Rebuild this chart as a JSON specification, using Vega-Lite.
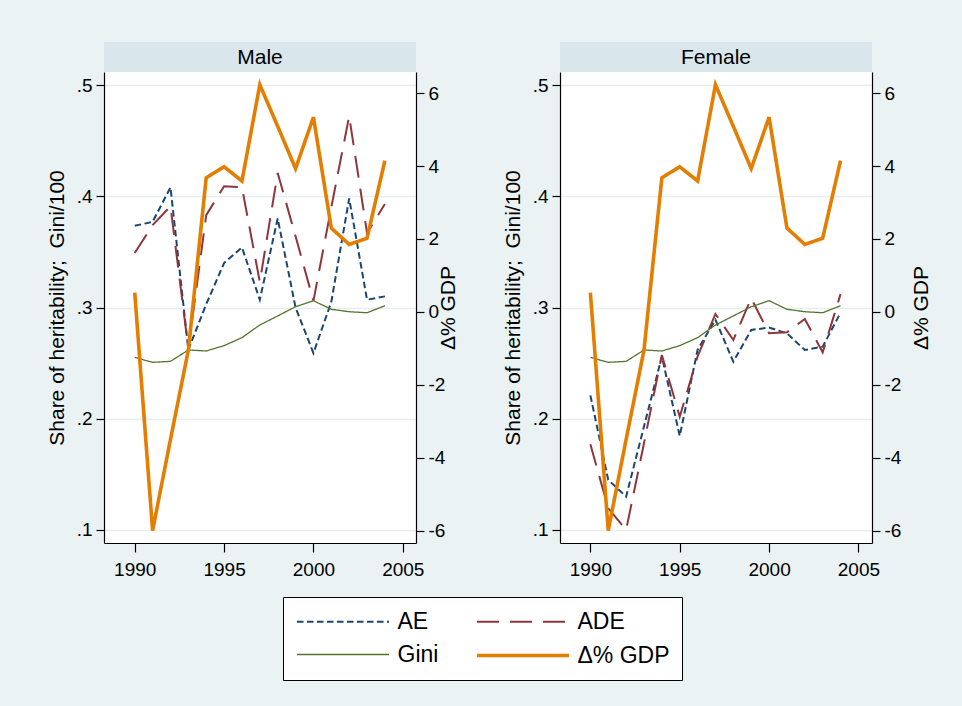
{
  "$schema": "https://vega.github.io/schema/vega-lite/v6.json",
  "background": "#eaf2f3",
  "padding": {"left": 46, "top": 42, "right": 35, "bottom": 29},
  "config": {
    "font": "Liberation Sans",
    "view": {"fill": "white", "stroke": null},
    "axis": {
      "domainColor": "black", "domainWidth": 1.2, "tickColor": "black", "tickSize": 8, "tickWidth": 1.2,
      "labelFont": "Liberation Sans", "labelFontSize": 19, "labelColor": "black",
      "titleFont": "Liberation Sans", "titleFontSize": 21, "titleFontWeight": "normal", "titleColor": "black",
      "gridColor": "#e6eef0", "gridWidth": 1.5
    },
    "legend": {
      "orient": "none", "legendX": 179, "legendY": 555, "columns": 2, "direction": "horizontal",
      "symbolType": "M-4,0H4", "symbolSize": 529, "symbolOffset": 34.5, "labelOffset": 41,
      "labelFontSize": 23, "labelFont": "Liberation Sans", "labelColor": "black",
      "padding": 12, "fillColor": "white", "strokeColor": "black",
      "columnPadding": 30, "rowPadding": 8
    }
  },
  "datasets": {
    "d": [
      {"panel":"Male","series":"AE","year":1990,"value":0.3735},{"panel":"Male","series":"AE","year":1991,"value":0.377},{"panel":"Male","series":"AE","year":1992,"value":0.408},{"panel":"Male","series":"AE","year":1993,"value":0.262},{"panel":"Male","series":"AE","year":1994,"value":0.303},{"panel":"Male","series":"AE","year":1995,"value":0.340},{"panel":"Male","series":"AE","year":1996,"value":0.354},{"panel":"Male","series":"AE","year":1997,"value":0.307},{"panel":"Male","series":"AE","year":1998,"value":0.380},{"panel":"Male","series":"AE","year":1999,"value":0.300},{"panel":"Male","series":"AE","year":2000,"value":0.259},{"panel":"Male","series":"AE","year":2001,"value":0.305},{"panel":"Male","series":"AE","year":2002,"value":0.398},{"panel":"Male","series":"AE","year":2003,"value":0.307},{"panel":"Male","series":"AE","year":2004,"value":0.310},
      {"panel":"Male","series":"ADE","year":1990,"value":0.349},{"panel":"Male","series":"ADE","year":1991,"value":0.374},{"panel":"Male","series":"ADE","year":1992,"value":0.391},{"panel":"Male","series":"ADE","year":1993,"value":0.263},{"panel":"Male","series":"ADE","year":1994,"value":0.383},{"panel":"Male","series":"ADE","year":1995,"value":0.409},{"panel":"Male","series":"ADE","year":1996,"value":0.408},{"panel":"Male","series":"ADE","year":1997,"value":0.323},{"panel":"Male","series":"ADE","year":1998,"value":0.421},{"panel":"Male","series":"ADE","year":1999,"value":0.364},{"panel":"Male","series":"ADE","year":2000,"value":0.306},{"panel":"Male","series":"ADE","year":2001,"value":0.390},{"panel":"Male","series":"ADE","year":2002,"value":0.472},{"panel":"Male","series":"ADE","year":2003,"value":0.367},{"panel":"Male","series":"ADE","year":2004,"value":0.393},
      {"panel":"Male","series":"Gini","year":1990,"value":0.2552},{"panel":"Male","series":"Gini","year":1991,"value":0.2507},{"panel":"Male","series":"Gini","year":1992,"value":0.2516},{"panel":"Male","series":"Gini","year":1993,"value":0.2618},{"panel":"Male","series":"Gini","year":1994,"value":0.2609},{"panel":"Male","series":"Gini","year":1995,"value":0.2657},{"panel":"Male","series":"Gini","year":1996,"value":0.2729},{"panel":"Male","series":"Gini","year":1997,"value":0.2843},{"panel":"Male","series":"Gini","year":1998,"value":0.2924},{"panel":"Male","series":"Gini","year":1999,"value":0.3007},{"panel":"Male","series":"Gini","year":2000,"value":0.3061},{"panel":"Male","series":"Gini","year":2001,"value":0.2984},{"panel":"Male","series":"Gini","year":2002,"value":0.2962},{"panel":"Male","series":"Gini","year":2003,"value":0.2953},{"panel":"Male","series":"Gini","year":2004,"value":0.3016},
      {"panel":"Male","series":"Δ% GDP","year":1990,"value":0.53},{"panel":"Male","series":"Δ% GDP","year":1991,"value":-6.0},{"panel":"Male","series":"Δ% GDP","year":1992,"value":-3.5},{"panel":"Male","series":"Δ% GDP","year":1993,"value":-1.05},{"panel":"Male","series":"Δ% GDP","year":1994,"value":3.68},{"panel":"Male","series":"Δ% GDP","year":1995,"value":3.98},{"panel":"Male","series":"Δ% GDP","year":1996,"value":3.59},{"panel":"Male","series":"Δ% GDP","year":1997,"value":6.23},{"panel":"Male","series":"Δ% GDP","year":1998,"value":5.09},{"panel":"Male","series":"Δ% GDP","year":1999,"value":3.93},{"panel":"Male","series":"Δ% GDP","year":2000,"value":5.34},{"panel":"Male","series":"Δ% GDP","year":2001,"value":2.30},{"panel":"Male","series":"Δ% GDP","year":2002,"value":1.85},{"panel":"Male","series":"Δ% GDP","year":2003,"value":2.02},{"panel":"Male","series":"Δ% GDP","year":2004,"value":4.15},
      {"panel":"Female","series":"AE","year":1990,"value":0.221},{"panel":"Female","series":"AE","year":1991,"value":0.145},{"panel":"Female","series":"AE","year":1992,"value":0.130},{"panel":"Female","series":"AE","year":1993,"value":0.193},{"panel":"Female","series":"AE","year":1994,"value":0.256},{"panel":"Female","series":"AE","year":1995,"value":0.1845},{"panel":"Female","series":"AE","year":1996,"value":0.262},{"panel":"Female","series":"AE","year":1997,"value":0.289},{"panel":"Female","series":"AE","year":1998,"value":0.2513},{"panel":"Female","series":"AE","year":1999,"value":0.2798},{"panel":"Female","series":"AE","year":2000,"value":0.282},{"panel":"Female","series":"AE","year":2001,"value":0.2768},{"panel":"Female","series":"AE","year":2002,"value":0.2618},{"panel":"Female","series":"AE","year":2003,"value":0.2648},{"panel":"Female","series":"AE","year":2004,"value":0.2953},
      {"panel":"Female","series":"ADE","year":1990,"value":0.177},{"panel":"Female","series":"ADE","year":1991,"value":0.1195},{"panel":"Female","series":"ADE","year":1992,"value":0.100},{"panel":"Female","series":"ADE","year":1993,"value":0.178},{"panel":"Female","series":"ADE","year":1994,"value":0.2573},{"panel":"Female","series":"ADE","year":1995,"value":0.2018},{"panel":"Female","series":"ADE","year":1996,"value":0.256},{"panel":"Female","series":"ADE","year":1997,"value":0.2942},{"panel":"Female","series":"ADE","year":1998,"value":0.2708},{"panel":"Female","series":"ADE","year":1999,"value":0.3083},{"panel":"Female","series":"ADE","year":2000,"value":0.2768},{"panel":"Female","series":"ADE","year":2001,"value":0.2777},{"panel":"Female","series":"ADE","year":2002,"value":0.2897},{"panel":"Female","series":"ADE","year":2003,"value":0.2597},{"panel":"Female","series":"ADE","year":2004,"value":0.312},
      {"panel":"Female","series":"Gini","year":1990,"value":0.2552},{"panel":"Female","series":"Gini","year":1991,"value":0.2507},{"panel":"Female","series":"Gini","year":1992,"value":0.2516},{"panel":"Female","series":"Gini","year":1993,"value":0.2618},{"panel":"Female","series":"Gini","year":1994,"value":0.2609},{"panel":"Female","series":"Gini","year":1995,"value":0.2657},{"panel":"Female","series":"Gini","year":1996,"value":0.2729},{"panel":"Female","series":"Gini","year":1997,"value":0.2843},{"panel":"Female","series":"Gini","year":1998,"value":0.2924},{"panel":"Female","series":"Gini","year":1999,"value":0.3007},{"panel":"Female","series":"Gini","year":2000,"value":0.3061},{"panel":"Female","series":"Gini","year":2001,"value":0.2984},{"panel":"Female","series":"Gini","year":2002,"value":0.2962},{"panel":"Female","series":"Gini","year":2003,"value":0.2953},{"panel":"Female","series":"Gini","year":2004,"value":0.3016},
      {"panel":"Female","series":"Δ% GDP","year":1990,"value":0.53},{"panel":"Female","series":"Δ% GDP","year":1991,"value":-6.0},{"panel":"Female","series":"Δ% GDP","year":1992,"value":-3.5},{"panel":"Female","series":"Δ% GDP","year":1993,"value":-1.05},{"panel":"Female","series":"Δ% GDP","year":1994,"value":3.68},{"panel":"Female","series":"Δ% GDP","year":1995,"value":3.98},{"panel":"Female","series":"Δ% GDP","year":1996,"value":3.59},{"panel":"Female","series":"Δ% GDP","year":1997,"value":6.23},{"panel":"Female","series":"Δ% GDP","year":1998,"value":5.09},{"panel":"Female","series":"Δ% GDP","year":1999,"value":3.93},{"panel":"Female","series":"Δ% GDP","year":2000,"value":5.34},{"panel":"Female","series":"Δ% GDP","year":2001,"value":2.30},{"panel":"Female","series":"Δ% GDP","year":2002,"value":1.85},{"panel":"Female","series":"Δ% GDP","year":2003,"value":2.02},{"panel":"Female","series":"Δ% GDP","year":2004,"value":4.15}
    ]
  },
  "spacing": 43,
  "hconcat": [
    {
      "spacing": 0,
      "bounds": "flush",
      "vconcat": [
        {
          "width": 312, "height": 30,
          "view": {"fill": "#d9e6eb", "stroke": null},
          "data": {"values": [{"panel": "Male"}]},
          "mark": {"type": "text", "fontSize": 21, "font": "Liberation Sans", "color": "black", "dy": 1},
          "encoding": {"text": {"field": "panel"}}
        },
        {
          "width": 312, "height": 471,
          "data": {"name": "d"},
          "layer": [
            {
              "transform": [{"filter": "datum.panel == 'Male' && datum.series != 'Δ% GDP'"}],
              "mark": {"type": "line"},
              "encoding": {
                "x": {"field": "year", "type": "quantitative", "scale": {"domain": [1988.28, 2005.74], "nice": false, "zero": false},
                      "axis": {"values": [1990, 1995, 2000, 2005], "format": "d", "grid": false, "title": null, "labelPadding": 8, "tickSize": 9}},
                "y": {"field": "value", "type": "quantitative", "scale": {"domain": [0.0883, 0.5117], "nice": false, "zero": false},
                      "axis": {"orient": "left", "values": [0.1, 0.2, 0.3, 0.4, 0.5], "labelExpr": "replace(format(datum.value, '.1f'), '0.', '.')", "grid": true, "title": "Share of heritability;\u00a0 Gini/100", "labelPadding": 4, "titlePadding": 9}},
                "color": {"field": "series", "type": "nominal", "scale": {"domain": ["AE", "ADE", "Gini", "Δ% GDP"], "range": ["#1a476f", "#90353b", "#55752f", "#e37e00"]}, "legend": {"title": null}},
                "strokeDash": {"field": "series", "type": "nominal", "scale": {"domain": ["AE", "ADE", "Gini", "Δ% GDP"], "range": [[6.5, 3.5], [22, 11], [1, 0], [1, 0]]}, "legend": {"title": null}},
                "strokeWidth": {"field": "series", "type": "nominal", "scale": {"type": "ordinal", "domain": ["AE", "ADE", "Gini", "Δ% GDP"], "range": [2, 2, 1.3, 3.6]}, "legend": {"title": null}}
              }
            },
            {
              "transform": [{"filter": "datum.panel == 'Male' && datum.series == 'Δ% GDP'"}],
              "mark": {"type": "line"},
              "encoding": {
                "x": {"field": "year", "type": "quantitative"},
                "y": {"field": "value", "type": "quantitative", "scale": {"domain": [-6.34, 6.58], "nice": false, "zero": false},
                      "axis": {"orient": "right", "values": [-6, -4, -2, 0, 2, 4, 6], "labelExpr": "'' + datum.value", "grid": false, "title": "Δ% GDP", "titleAngle": 270, "labelPadding": 4, "titlePadding": 14}},
                "color": {"field": "series", "type": "nominal", "scale": {"domain": ["AE", "ADE", "Gini", "Δ% GDP"], "range": ["#1a476f", "#90353b", "#55752f", "#e37e00"]}, "legend": {"title": null}},
                "strokeDash": {"field": "series", "type": "nominal", "scale": {"domain": ["AE", "ADE", "Gini", "Δ% GDP"], "range": [[6.5, 3.5], [22, 11], [1, 0], [1, 0]]}, "legend": {"title": null}},
                "strokeWidth": {"field": "series", "type": "nominal", "scale": {"type": "ordinal", "domain": ["AE", "ADE", "Gini", "Δ% GDP"], "range": [2, 2, 1.3, 3.6]}, "legend": {"title": null}}
              }
            }
          ],
          "resolve": {"scale": {"y": "independent"}}
        }
      ]
    },
    {
      "spacing": 0,
      "bounds": "flush",
      "vconcat": [
        {
          "width": 312, "height": 30,
          "view": {"fill": "#d9e6eb", "stroke": null},
          "data": {"values": [{"panel": "Female"}]},
          "mark": {"type": "text", "fontSize": 21, "font": "Liberation Sans", "color": "black", "dy": 1},
          "encoding": {"text": {"field": "panel"}}
        },
        {
          "width": 312, "height": 471,
          "data": {"name": "d"},
          "layer": [
            {
              "transform": [{"filter": "datum.panel == 'Female' && datum.series != 'Δ% GDP'"}],
              "mark": {"type": "line"},
              "encoding": {
                "x": {"field": "year", "type": "quantitative", "scale": {"domain": [1988.3, 2005.76], "nice": false, "zero": false},
                      "axis": {"values": [1990, 1995, 2000, 2005], "format": "d", "grid": false, "title": null, "labelPadding": 8, "tickSize": 9}},
                "y": {"field": "value", "type": "quantitative", "scale": {"domain": [0.0883, 0.5117], "nice": false, "zero": false},
                      "axis": {"orient": "left", "values": [0.1, 0.2, 0.3, 0.4, 0.5], "labelExpr": "replace(format(datum.value, '.1f'), '0.', '.')", "grid": true, "title": "Share of heritability;\u00a0 Gini/100", "labelPadding": 4, "titlePadding": 9}},
                "color": {"field": "series", "type": "nominal", "scale": {"domain": ["AE", "ADE", "Gini", "Δ% GDP"], "range": ["#1a476f", "#90353b", "#55752f", "#e37e00"]}, "legend": {"title": null}},
                "strokeDash": {"field": "series", "type": "nominal", "scale": {"domain": ["AE", "ADE", "Gini", "Δ% GDP"], "range": [[6.5, 3.5], [22, 11], [1, 0], [1, 0]]}, "legend": {"title": null}},
                "strokeWidth": {"field": "series", "type": "nominal", "scale": {"type": "ordinal", "domain": ["AE", "ADE", "Gini", "Δ% GDP"], "range": [2, 2, 1.3, 3.6]}, "legend": {"title": null}}
              }
            },
            {
              "transform": [{"filter": "datum.panel == 'Female' && datum.series == 'Δ% GDP'"}],
              "mark": {"type": "line"},
              "encoding": {
                "x": {"field": "year", "type": "quantitative"},
                "y": {"field": "value", "type": "quantitative", "scale": {"domain": [-6.34, 6.58], "nice": false, "zero": false},
                      "axis": {"orient": "right", "values": [-6, -4, -2, 0, 2, 4, 6], "labelExpr": "'' + datum.value", "grid": false, "title": "Δ% GDP", "titleAngle": 270, "labelPadding": 4, "titlePadding": 31}},
                "color": {"field": "series", "type": "nominal", "scale": {"domain": ["AE", "ADE", "Gini", "Δ% GDP"], "range": ["#1a476f", "#90353b", "#55752f", "#e37e00"]}, "legend": {"title": null}},
                "strokeDash": {"field": "series", "type": "nominal", "scale": {"domain": ["AE", "ADE", "Gini", "Δ% GDP"], "range": [[6.5, 3.5], [22, 11], [1, 0], [1, 0]]}, "legend": {"title": null}},
                "strokeWidth": {"field": "series", "type": "nominal", "scale": {"type": "ordinal", "domain": ["AE", "ADE", "Gini", "Δ% GDP"], "range": [2, 2, 1.3, 3.6]}, "legend": {"title": null}}
              }
            }
          ],
          "resolve": {"scale": {"y": "independent"}}
        }
      ]
    }
  ]
}
